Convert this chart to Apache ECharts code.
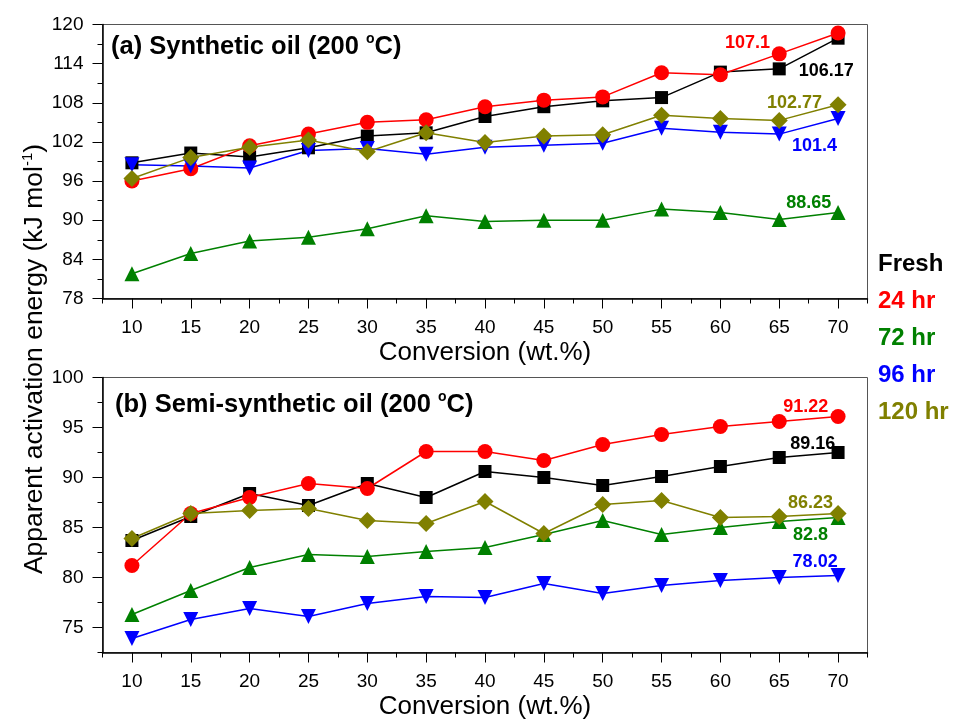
<!DOCTYPE html>
<html>
<head>
<meta charset="utf-8">
<script src="https://cdn.jsdelivr.net/npm/echarts@6/dist/echarts.min.js"></script>
<style>
html,body{margin:0;padding:0;background:#fff;}
#main{width:956px;height:724px;}
</style>
</head>
<body>
<div id="main"></div>
<script>
// ---------- data ----------
const conversion = [10, 15, 20, 25, 30, 35, 40, 45, 50, 55, 60, 65, 70];
const seriesNames = ['Fresh', '24 hr', '72 hr', '96 hr', '120 hr'];

// (a) Synthetic oil (200 °C)
const synFresh = [98.8, 100.3, 99.7, 101.1, 102.9, 103.4, 105.9, 107.4, 108.3, 108.8, 112.7, 113.2, 117.9];
const syn24 = [96.0, 97.9, 101.4, 103.2, 105.0, 105.4, 107.4, 108.4, 108.9, 112.6, 112.3, 115.5, 118.7];
const syn72 = [81.8, 84.9, 86.8, 87.4, 88.7, 90.7, 89.8, 90.0, 90.0, 91.7, 91.2, 90.1, 91.2];
const syn96 = [98.5, 98.3, 98.0, 100.7, 101.0, 100.1, 101.2, 101.5, 101.8, 104.1, 103.5, 103.2, 105.6];
const syn120 = [96.4, 99.6, 101.2, 102.3, 100.5, 103.4, 101.9, 102.9, 103.1, 106.1, 105.6, 105.3, 107.7];
const synNotes = ['106.17', '107.1', '88.65', '101.4', '102.77'];

// (b) Semi-synthetic oil (200 °C)
const semiFresh = [83.7, 86.1, 88.4, 87.2, 89.4, 88.0, 90.6, 90.0, 89.2, 90.1, 91.1, 92.0, 92.5];
const semi24 = [81.2, 86.4, 88.0, 89.4, 88.9, 92.6, 92.6, 91.7, 93.3, 94.3, 95.1, 95.6, 96.1];
const semi72 = [76.3, 78.7, 81.0, 82.3, 82.1, 82.6, 83.0, 84.3, 85.7, 84.3, 85.0, 85.6, 86.0];
const semi96 = [73.9, 75.8, 76.9, 76.1, 77.4, 78.1, 78.0, 79.4, 78.4, 79.2, 79.7, 80.0, 80.2];
const semi120 = [83.9, 86.4, 86.7, 86.9, 85.7, 85.4, 87.6, 84.4, 87.3, 87.7, 86.0, 86.1, 86.4];
const semiNotes = ['89.16', '91.22', '82.8', '78.02', '86.23'];

// tick values
const xMajorTicks = [10, 15, 20, 25, 30, 35, 40, 45, 50, 55, 60, 65, 70];
const xMinorTicks = [7.5, 12.5, 17.5, 22.5, 27.5, 32.5, 37.5, 42.5, 47.5, 52.5, 57.5, 62.5, 67.5, 72.5];
const yBotMajorTicks = [75, 80, 85, 90, 95, 100];
const yBotMinorTicks = [72.5, 77.5, 82.5, 87.5, 92.5, 97.5];

// ---------- styling / layout ----------
const FONT = '"Liberation Sans", Arial, Helvetica, sans-serif';
const colors = ['#000000', '#ff0000', '#008000', '#0000ff', '#808000'];
const symbols = ['rect', 'circle', 'triangle', 'path://M0,0 L10,0 L5,10 Z', 'diamond'];
const symbolSizes = [13, 15, 15, 15, 17];

// annotation anchors (data coordinates of the text centres)
const synNotePos = [[69.0, 112.8], [62.3, 117.2], [67.5, 92.7], [68.0, 101.4], [66.3, 108.0]];
const semiNotePos = [[67.85, 93.3], [67.25, 97.0], [67.65, 84.2], [68.05, 81.5], [67.65, 87.4]];

const gridLeft = 102.5, gridRight = 88.5;

function mainX(gridIndex) {
  return {
    type: 'value', gridIndex: gridIndex, min: 7.5, max: 72.5, position: 'bottom',
    axisLine: { show: true, onZero: false, lineStyle: { color: '#000', width: 1.5 } },
    axisTick: { show: true, length: 10, customValues: xMajorTicks, lineStyle: { color: '#000', width: 1 } },
    axisLabel: { customValues: xMajorTicks, margin: 20, fontSize: 19, color: '#000', fontFamily: FONT },
    splitLine: { show: false },
    name: 'Conversion (wt.%)', nameLocation: 'middle', nameGap: 41,
    nameTextStyle: { fontSize: 26, color: '#000', fontFamily: FONT }
  };
}
function minorX(gridIndex) {
  return {
    type: 'value', gridIndex: gridIndex, min: 7.5, max: 72.5, position: 'bottom',
    axisLine: { show: false, onZero: false },
    axisTick: { show: true, length: 5, customValues: xMinorTicks, lineStyle: { color: '#000', width: 1 } },
    axisLabel: { show: false },
    splitLine: { show: false }
  };
}

const yAxes = [
  {
    type: 'value', gridIndex: 0, min: 78, max: 120, interval: 6, position: 'left',
    axisLine: { show: true, onZero: false, lineStyle: { color: '#000', width: 1.5 } },
    axisTick: { show: true, length: 10, lineStyle: { color: '#000', width: 1 } },
    minorTick: { show: true, splitNumber: 2, length: 5, lineStyle: { color: '#000', width: 1 } },
    axisLabel: { margin: 19, fontSize: 19, color: '#000', fontFamily: FONT },
    splitLine: { show: false }, minorSplitLine: { show: false }
  },
  {
    type: 'value', gridIndex: 1, min: 72.5, max: 100, position: 'left',
    axisLine: { show: true, onZero: false, lineStyle: { color: '#000', width: 1.5 } },
    axisTick: { show: true, length: 10, customValues: yBotMajorTicks, lineStyle: { color: '#000', width: 1 } },
    axisLabel: { customValues: yBotMajorTicks, margin: 19, fontSize: 19, color: '#000', fontFamily: FONT },
    splitLine: { show: false }
  },
  {
    type: 'value', gridIndex: 1, min: 72.5, max: 100, position: 'left', offset: 0,
    axisLine: { show: false, onZero: false },
    axisTick: { show: true, length: 5, customValues: yBotMinorTicks, lineStyle: { color: '#000', width: 1 } },
    axisLabel: { show: false },
    splitLine: { show: false }
  }
];

function buildSeries(valuesList, notes, notePos, xIdx, yIdx) {
  return valuesList.map(function (vals, k) {
    return {
      type: 'line',
      name: seriesNames[k],
      xAxisIndex: xIdx, yAxisIndex: yIdx,
      data: conversion.map(function (c, i) { return [c, vals[i]]; }),
      symbol: symbols[k],
      symbolSize: symbolSizes[k],
      showAllSymbol: true,
      itemStyle: { color: colors[k], opacity: 1 },
      lineStyle: { color: colors[k], width: 1.5 },
      emphasis: { disabled: true },
      markPoint: {
        symbol: 'rect', symbolSize: 1,
        itemStyle: { color: 'rgba(0,0,0,0)' },
        label: {
          show: true, position: 'inside', color: colors[k],
          fontSize: 18, fontWeight: 'bold', fontFamily: FONT,
          formatter: notes[k]
        },
        data: [{ coord: notePos[k] }]
      }
    };
  });
}

const series = []
  .concat(buildSeries([synFresh, syn24, syn72, syn96, syn120], synNotes, synNotePos, 0, 0))
  .concat(buildSeries([semiFresh, semi24, semi72, semi96, semi120], semiNotes, semiNotePos, 2, 1));

const titleRich = {
  m: { fontSize: 25.5, fontWeight: 'bold', fontFamily: FONT, color: '#000', lineHeight: 30 },
  s: { fontSize: 14, fontWeight: 'bold', fontFamily: FONT, color: '#000', verticalAlign: 'top', lineHeight: 14 }
};

const option = {
  animation: false,
  backgroundColor: '#ffffff',
  grid: [
    { left: gridLeft, right: gridRight, top: 24.5, height: 274, show: true, borderColor: '#555', borderWidth: 1, backgroundColor: 'rgba(0,0,0,0)' },
    { left: gridLeft, right: gridRight, top: 377.5, height: 275, show: true, borderColor: '#555', borderWidth: 1, backgroundColor: 'rgba(0,0,0,0)' }
  ],
  xAxis: [mainX(0), minorX(0), mainX(1), minorX(1)],
  yAxis: yAxes,
  legend: {
    orient: 'vertical', left: 868, top: 247, itemGap: 13,
    itemWidth: 0, itemHeight: 0, icon: 'none', selectedMode: false,
    textStyle: { fontSize: 24, fontWeight: 'bold', fontFamily: FONT },
    data: seriesNames.map(function (n, i) { return { name: n, textStyle: { color: colors[i] } }; })
  },
  graphic: [
    {
      type: 'text', x: 111, y: 47,
      style: { text: '{m|(a) Synthetic oil (200 }{s|o}{m|C)}', rich: titleRich, textVerticalAlign: 'middle', textAlign: 'left' }
    },
    {
      type: 'text', x: 115, y: 405,
      style: { text: '{m|(b) Semi-synthetic oil (200 }{s|o}{m|C)}', rich: titleRich, textVerticalAlign: 'middle', textAlign: 'left' }
    },
    {
      type: 'text', x: 35, y: 359, rotation: Math.PI / 2,
      style: {
        text: '{m|Apparent activation energy (kJ mol}{s|-1}{m|)}',
        rich: {
          m: { fontSize: 26.5, fontFamily: FONT, color: '#000', lineHeight: 30 },
          s: { fontSize: 15, fontFamily: FONT, color: '#000', verticalAlign: 'top', lineHeight: 15 }
        },
        textAlign: 'center', textVerticalAlign: 'middle'
      }
    }
  ],
  series: series
};

const chart = echarts.init(document.getElementById('main'), null, { renderer: 'canvas' });
chart.setOption(option);
</script>
</body>
</html>
